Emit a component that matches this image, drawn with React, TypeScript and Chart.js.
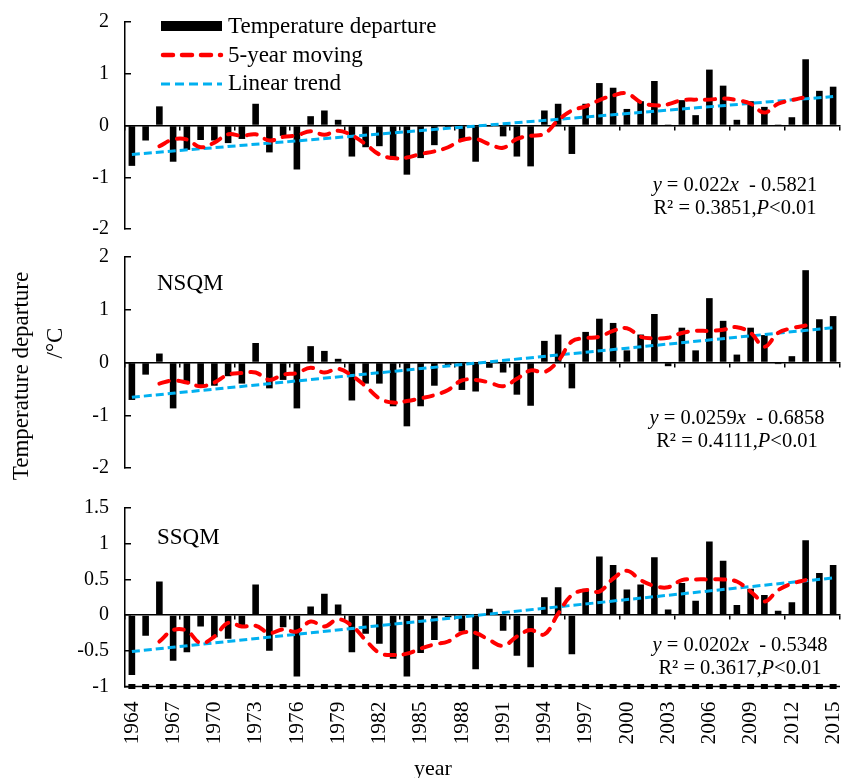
import React, { useEffect, useRef } from 'react';
import { Chart, registerables } from 'chart.js';

Chart.register(...registerables);

const FONT = '"Liberation Serif", "Times New Roman", serif';

const years = [
  '1964','1965','1966','1967','1968','1969','1970','1971','1972','1973',
  '1974','1975','1976','1977','1978','1979','1980','1981','1982','1983',
  '1984','1985','1986','1987','1988','1989','1990','1991','1992','1993',
  '1994','1995','1996','1997','1998','1999','2000','2001','2002','2003',
  '2004','2005','2006','2007','2008','2009','2010','2011','2012','2013',
  '2014','2015'
];

// Panel 1 (whole region)
const barsAll = [
  -0.78, -0.29, 0.37, -0.70, -0.47, -0.28, -0.29, -0.34, -0.26, 0.42,
  -0.52, -0.20, -0.85, 0.18, 0.29, 0.11, -0.60, -0.42, -0.40, -0.66,
  -0.95, -0.63, -0.38, -0.03, -0.30, -0.70, -0.02, -0.21, -0.60, -0.79,
  0.29, 0.42, -0.55, 0.42, 0.82, 0.73, 0.32, 0.47, 0.86, 0.02,
  0.49, 0.20, 1.08, 0.77, 0.11, 0.47, 0.36, 0.02, 0.16, 1.28,
  0.67, 0.75
];
const movingAll = [
  null, null, -0.40, -0.27, -0.27, -0.42, -0.33, -0.17, -0.20, -0.17,
  -0.29, -0.22, -0.19, -0.11, -0.18, -0.10, -0.19, -0.36, -0.56, -0.63,
  -0.62, -0.55, -0.50, -0.42, -0.28, -0.26, -0.36, -0.43, -0.26, -0.20,
  -0.16, 0.10, 0.29, 0.37, 0.49, 0.58, 0.62, 0.45, 0.39, 0.41,
  0.49, 0.50, 0.50, 0.52, 0.49, 0.42, 0.25, 0.42, 0.49, 0.55,
  null, null
];
const trendAll = [-0.56, 0.56];

// Panel 2 (NSQM)
const barsN = [
  -0.71, -0.23, 0.17, -0.87, -0.40, -0.45, -0.44, -0.26, -0.40, 0.37,
  -0.49, -0.33, -0.87, 0.31, 0.22, 0.07, -0.72, -0.40, -0.40, -0.83,
  -1.21, -0.83, -0.44, -0.05, -0.52, -0.55, -0.10, -0.19, -0.61, -0.82,
  0.41, 0.53, -0.49, 0.58, 0.83, 0.75, 0.23, 0.53, 0.92, -0.07,
  0.66, 0.23, 1.22, 0.79, 0.15, 0.66, 0.52, -0.03, 0.12, 1.75,
  0.82, 0.88
];
const movingN = [
  null, null, -0.40, -0.34, -0.38, -0.45, -0.38, -0.23, -0.20, -0.19,
  -0.33, -0.23, -0.20, -0.10, -0.19, -0.12, -0.25, -0.45, -0.68, -0.76,
  -0.73, -0.68, -0.62, -0.52, -0.34, -0.33, -0.38, -0.45, -0.31, -0.15,
  -0.18, 0.03, 0.40, 0.46, 0.49, 0.60, 0.65, 0.49, 0.46, 0.47,
  0.56, 0.60, 0.60, 0.62, 0.67, 0.56, 0.30, 0.56, 0.65, 0.70,
  null, null
];
const trendN = [-0.66, 0.66];

// Panel 3 (SSQM)
const barsS = [
  -0.84, -0.29, 0.47, -0.64, -0.52, -0.16, -0.31, -0.33, -0.16, 0.43,
  -0.50, -0.17, -0.86, 0.12, 0.30, 0.15, -0.52, -0.26, -0.40, -0.61,
  -0.86, -0.53, -0.35, -0.03, -0.23, -0.76, 0.09, -0.22, -0.57, -0.73,
  0.25, 0.39, -0.55, 0.37, 0.82, 0.70, 0.36, 0.43, 0.81, 0.08,
  0.45, 0.20, 1.03, 0.76, 0.14, 0.37, 0.28, 0.06, 0.18, 1.05,
  0.59, 0.70
];
const movingS = [
  null, null, -0.37, -0.21, -0.22, -0.39, -0.30, -0.11, -0.16, -0.15,
  -0.25, -0.20, -0.23, -0.09, -0.16, -0.06, -0.15, -0.35, -0.53, -0.56,
  -0.54, -0.47, -0.41, -0.37, -0.25, -0.25, -0.35, -0.43, -0.30, -0.21,
  -0.27, 0.02, 0.28, 0.35, 0.33, 0.51, 0.62, 0.49, 0.41, 0.39,
  0.49, 0.50, 0.50, 0.50, 0.47, 0.33, 0.19, 0.35, 0.44, 0.49,
  null, null
];
const trendS = [-0.51, 0.52];

const dashedBottomAxis = {
  id: 'dashedBottomAxis',
  afterDraw(chart: any) {
    const { ctx, chartArea } = chart;
    const xs = chart.scales.x;
    ctx.save();
    ctx.strokeStyle = '#000';
    ctx.fillStyle = '#000';
    ctx.lineWidth = 1.5;
    ctx.beginPath();
    ctx.moveTo(chartArea.left, chartArea.bottom);
    ctx.lineTo(chartArea.right, chartArea.bottom);
    ctx.stroke();
    for (let i = 0; i < years.length; i++) {
      const px = xs.getPixelForValue(i);
      ctx.fillRect(px - 3.5, chartArea.bottom - 2.5, 7, 5);
    }
    ctx.restore();
  },
};

type PanelProps = {
  top: number;
  height: number;
  bars: number[];
  moving: (number | null)[];
  trend: number[];
  yMin: number;
  yMax: number;
  step: number;
  padTop: number;
  padBottom: number;
  showYears?: boolean;
};

function Panel(p: PanelProps) {
  const ref = useRef<HTMLCanvasElement>(null);
  useEffect(() => {
    if (!ref.current) return;
    const zeroPad = (s: any) => {
      s.paddingLeft = 0;
      s.paddingRight = 0;
      s.paddingTop = 0;
      s.paddingBottom = 0;
    };
    const scales: any = {
      x: {
        type: 'category',
        offset: true,
        position: { y: 0 },
        grid: {
          offset: true,
          drawOnChartArea: false,
          drawTicks: true,
          tickLength: 4,
          lineWidth: 1.5,
          color: (c: any) => (c.type !== 'tick' || c.index % 4 === 0 ? '#000' : 'rgba(0,0,0,0)'),
        },
        border: { display: true, color: '#000', width: 1.5 },
        ticks: { display: false, autoSkip: false },
        afterFit: zeroPad,
      },
      y: {
        type: 'linear',
        position: 'left',
        min: p.yMin,
        max: p.yMax,
        ticks: {
          stepSize: p.step,
          color: '#000',
          padding: 22,
          font: { family: FONT, size: 20 },
          callback: (v: any) => String(Number(Number(v).toFixed(2))),
        },
        grid: { drawOnChartArea: false, drawTicks: true, tickLength: -6, color: '#000', lineWidth: 1.5 },
        border: { display: true, color: '#000', width: 1.5 },
        afterFit: (s: any) => {
          s.width = 125;
          zeroPad(s);
        },
      },
    };
    if (p.showYears) {
      scales.x2 = {
        type: 'category',
        axis: 'x',
        labels: years,
        offset: true,
        position: 'bottom',
        grid: { display: false, drawTicks: false },
        border: { display: false },
        ticks: {
          autoSkip: false,
          minRotation: 90,
          maxRotation: 90,
          padding: 15,
          color: '#000',
          font: { family: FONT, size: 21.5 },
          callback: (_v: any, i: number) => (i % 3 === 0 ? years[i] : ''),
        },
        afterFit: (s: any) => {
          s.height = 60;
          zeroPad(s);
        },
      };
    }
    const chart = new Chart(ref.current, {
      type: 'bar',
      data: {
        labels: years,
        datasets: [
          {
            type: 'line',
            label: '5-year moving',
            data: p.moving,
            xAxisID: 'x',
            yAxisID: 'y',
            borderColor: '#ff0000',
            borderWidth: 4,
            borderDash: [10, 9],
            borderCapStyle: 'round',
            pointRadius: 0,
            tension: 0.4,
            spanGaps: true,
            fill: false,
            order: 1,
          } as any,
          {
            type: 'line',
            label: 'Linear trend',
            data: [
              { x: years[0], y: p.trend[0] },
              { x: years[years.length - 1], y: p.trend[1] },
            ],
            xAxisID: 'x',
            yAxisID: 'y',
            borderColor: '#00b0f0',
            borderWidth: 3,
            borderDash: [8, 4],
            pointRadius: 0,
            fill: false,
            order: 2,
          } as any,
          {
            type: 'bar',
            label: 'Temperature departure',
            data: p.bars,
            xAxisID: 'x',
            yAxisID: 'y',
            backgroundColor: '#000',
            barPercentage: 0.48,
            categoryPercentage: 1,
            order: 3,
          } as any,
        ],
      },
      options: {
        responsive: false,
        animation: false,
        layout: { padding: { left: 0, right: 3, top: p.padTop, bottom: p.padBottom } },
        plugins: { legend: { display: false }, tooltip: { enabled: false } },
        scales,
      },
      plugins: p.showYears ? [dashedBottomAxis] : [],
    } as any);
    return () => chart.destroy();
  }, []);
  return (
    <canvas
      ref={ref}
      width={843}
      height={p.height}
      style={{ position: 'absolute', left: 0, top: p.top, width: 843, height: p.height, display: 'block' }}
    />
  );
}

const txt = (extra: React.CSSProperties): React.CSSProperties => ({
  position: 'absolute',
  fontFamily: FONT,
  color: '#000',
  whiteSpace: 'nowrap',
  ...extra,
});

function Equation({ cx, cy, a, b, r2 }: { cx: number; cy: number; a: string; b: string; r2: string }) {
  return (
    <div style={txt({ left: cx, top: cy - 12, transform: 'translateX(-50%)', fontSize: 20.5, lineHeight: '23px', textAlign: 'center' })}>
      <div>
        <i>y</i> = {a}<i>x</i>&nbsp; - {b}
      </div>
      <div>
        R² = {r2},<i>P</i>&lt;0.01
      </div>
    </div>
  );
}

export default function App() {
  return (
    <div style={{ position: 'absolute', left: 0, top: 0, width: 843, height: 778, background: '#fff', overflow: 'hidden' }}>
      <Panel top={0} height={245} bars={barsAll} moving={movingAll} trend={trendAll} yMin={-2} yMax={2} step={1} padTop={22} padBottom={16} />
      <Panel top={245} height={240} bars={barsN} moving={movingN} trend={trendN} yMin={-2} yMax={2} step={1} padTop={12} padBottom={17} />
      <Panel top={485} height={293} bars={barsS} moving={movingS} trend={trendS} yMin={-1} yMax={1.5} step={0.5} padTop={23} padBottom={31.5} showYears />

      {/* legend */}
      <div style={{ position: 'absolute', left: 161, top: 21, width: 61, height: 10, background: '#000' }} />
      <svg style={{ position: 'absolute', left: 158, top: 48 }} width={70} height={14}>
        <line x1={5} y1={7} x2={63} y2={7} stroke="#ff0000" strokeWidth={4.5} strokeDasharray="10 9" strokeLinecap="round" />
      </svg>
      <svg style={{ position: 'absolute', left: 158, top: 77 }} width={70} height={14}>
        <line x1={3} y1={7} x2={64} y2={7} stroke="#00b0f0" strokeWidth={3} strokeDasharray="9 5" />
      </svg>
      <div style={txt({ left: 228, top: 13, fontSize: 23, lineHeight: '26px' })}>Temperature departure</div>
      <div style={txt({ left: 228, top: 42, fontSize: 23, lineHeight: '26px' })}>5-year moving</div>
      <div style={txt({ left: 228, top: 70, fontSize: 23, lineHeight: '26px' })}>Linear trend</div>

      {/* panel labels */}
      <div style={txt({ left: 157, top: 270, fontSize: 23, lineHeight: '26px' })}>NSQM</div>
      <div style={txt({ left: 157, top: 524, fontSize: 23, lineHeight: '26px' })}>SSQM</div>

      {/* equations */}
      <Equation cx={735} cy={185} a="0.022" b="0.5821" r2="0.3851" />
      <Equation cx={737} cy={418} a="0.0259" b="0.6858" r2="0.4111" />
      <Equation cx={740} cy={645} a="0.0202" b="0.5348" r2="0.3617" />

      {/* axis titles */}
      <div style={txt({ left: 21, top: 376, fontSize: 23, lineHeight: '26px', transform: 'translate(-50%, -50%) rotate(-90deg)' })}>
        Temperature departure
      </div>
      <div style={txt({ left: 55, top: 343, fontSize: 23, lineHeight: '26px', transform: 'translate(-50%, -50%) rotate(-90deg)' })}>
        /°C
      </div>
      <div style={txt({ left: 433, top: 768, fontSize: 22, lineHeight: '26px', transform: 'translate(-50%, -50%)' })}>year</div>
    </div>
  );
}
